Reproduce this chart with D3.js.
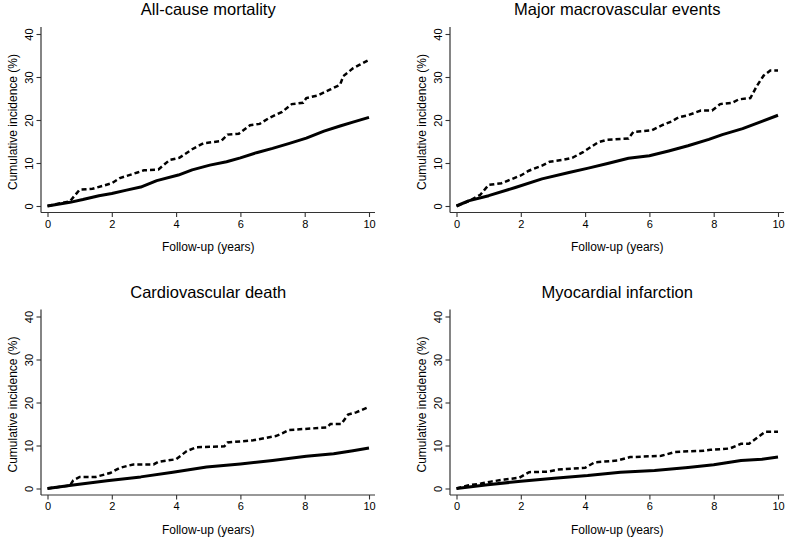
<!DOCTYPE html>
<html><head><meta charset="utf-8">
<script src="https://cdn.jsdelivr.net/npm/d3@7"></script>
<style>body{margin:0;background:#fff}svg{display:block}text{font-family:"Liberation Sans",Arial,Helvetica,sans-serif;fill:#000}</style>
</head><body>
<script>
// ---- data: [years, cumulative incidence %] ----
const titles = ["All-cause mortality","Major macrovascular events","Cardiovascular death","Myocardial infarction"];
const xTicks = [0,2,4,6,8,10];
const yTicks = [0,10,20,30,40];
const xLabel = "Follow-up (years)";
const yLabel = "Cumulative incidence (%)";

const mortalitySolid = [[0,0],[0.7,0.85],[1.1,1.5],[1.6,2.4],[2.0,2.9],[2.46,3.7],[2.9,4.4],[3.4,5.9],[4.07,7.2],[4.5,8.4],[5.05,9.5],[5.57,10.3],[6.0,11.2],[6.5,12.4],[7.0,13.4],[7.5,14.5],[8.05,15.8],[8.6,17.4],[9.1,18.6],[9.5,19.5],[10,20.6]];
const mortalityDashed = [[0,0],[0.3,0.5],[0.7,1.1],[1.0,3.8],[1.4,4.0],[2.0,5.3],[2.25,6.5],[2.8,7.8],[3.0,8.3],[3.45,8.5],[3.8,10.7],[4.1,11.2],[4.5,13.2],[4.85,14.6],[5.4,15.1],[5.6,16.6],[5.95,16.8],[6.3,18.8],[6.6,19.1],[6.9,20.5],[7.3,21.9],[7.6,23.7],[7.95,24.0],[8.05,25.1],[8.4,25.7],[8.8,27.1],[9.1,28.2],[9.2,30.2],[9.5,32.0],[9.7,32.8],[10,34.0]];
const macroSolid = [[0,0],[0.37,1.2],[1.0,2.4],[1.83,4.3],[2.66,6.3],[3.5,7.8],[4.1,8.8],[4.7,9.9],[5.35,11.1],[6.0,11.7],[6.6,12.8],[7.2,14.0],[7.85,15.5],[8.27,16.6],[8.9,18.0],[9.5,19.7],[10,21.1]];
const macroDashed = [[0,0],[0.37,1.1],[0.74,2.6],[1.0,4.9],[1.4,5.3],[1.83,6.6],[2.0,7.1],[2.25,8.2],[2.66,9.4],[2.9,10.3],[3.28,10.7],[3.6,11.2],[3.95,12.6],[4.4,14.8],[4.68,15.4],[5.35,15.7],[5.5,17.2],[6.08,17.6],[6.4,18.8],[6.7,19.7],[6.9,20.6],[7.2,21.1],[7.6,22.2],[7.95,22.2],[8.2,23.7],[8.57,24.0],[8.78,24.8],[9.14,25.1],[9.35,28.0],[9.55,30.3],[9.76,31.5],[10,31.5]];
const cvdSolid = [[0,0],[0.8,0.8],[1.85,1.8],[2.9,2.7],[3.9,3.8],[4.95,5.0],[6.0,5.7],[7.0,6.5],[8.05,7.5],[8.9,8.1],[9.5,8.8],[10,9.4]];
const cvdDashed = [[0,0],[0.4,0.4],[0.7,0.7],[0.8,1.9],[1.0,2.7],[1.5,2.7],[1.95,3.6],[2.25,4.8],[2.67,5.6],[3.3,5.6],[3.45,6.2],[4.0,6.8],[4.33,8.7],[4.64,9.6],[5.5,9.8],[5.6,10.7],[6.4,11.2],[7.1,12.2],[7.3,12.8],[7.5,13.6],[8.7,14.2],[8.8,15.0],[9.14,15.0],[9.35,17.2],[9.6,17.7],[10,19.0]];
const miSolid = [[0,0],[0.97,0.85],[2.0,1.7],[3.04,2.4],[4.08,3.0],[5.1,3.8],[6.16,4.2],[7.2,4.9],[8.0,5.5],[8.85,6.5],[9.5,6.8],[10,7.3]];
const miDashed = [[0,0],[0.35,0.7],[0.76,1.15],[1.07,1.6],[1.5,2.1],[1.95,2.5],[2.26,3.8],[2.83,3.9],[3.15,4.4],[4.0,4.8],[4.3,6.1],[5.0,6.5],[5.4,7.3],[6.37,7.6],[6.8,8.5],[7.7,8.8],[7.9,9.0],[8.5,9.3],[8.85,10.4],[9.1,10.4],[9.37,11.9],[9.6,13.2],[10,13.2]];

const panelSeries = [[mortalitySolid,mortalityDashed],[macroSolid,macroDashed],[cvdSolid,cvdDashed],[miSolid,miDashed]];

// ---- layout ----
const W = 786, H = 537;
const svg = d3.select("body").append("svg").attr("width", W).attr("height", H);
const origins = [[0,0],[409,0],[0,282.5],[409,282.5]];
const axisColor = "#333";

panelSeries.forEach((series, i) => {
  const [ox, oy] = origins[i];
  const g = svg.append("g").attr("transform", `translate(${ox},${oy})`);
  const x = d3.scaleLinear().domain([0,10]).range([47.5, 369]);
  const y = d3.scaleLinear().domain([0,40]).range([206, 34]);

  // title
  g.append("text").attr("x", (x(0)+x(10))/2).attr("y", 15)
    .attr("text-anchor","middle").style("font-size","16.5px").text(titles[i]);

  // axis lines
  const axBase = y(0) + 6.5, axLeft = x(0) - 6.5;
  g.append("line").attr("x1", axLeft).attr("x2", x(10)+6).attr("y1", axBase).attr("y2", axBase)
    .attr("stroke", axisColor).attr("stroke-width", 1.2);
  g.append("line").attr("x1", axLeft).attr("x2", axLeft).attr("y1", axBase).attr("y2", y(40)-7)
    .attr("stroke", axisColor).attr("stroke-width", 1.2);

  // x axis
  const xa = g.append("g").attr("transform", `translate(0,${axBase})`)
    .call(d3.axisBottom(x).tickValues(xTicks).tickSize(4.5).tickSizeOuter(0).tickPadding(3));
  xa.select(".domain").remove();
  xa.selectAll("line").attr("stroke", axisColor).attr("stroke-width", 1.1);
  xa.selectAll("text").style("font-size","11px").attr("fill","#000");

  // y axis
  const ya = g.append("g").attr("transform", `translate(${axLeft},0)`)
    .call(d3.axisLeft(y).tickValues(yTicks).tickSize(4.5).tickSizeOuter(0));
  ya.select(".domain").remove();
  ya.selectAll("line").attr("stroke", axisColor).attr("stroke-width", 1.1);
  ya.selectAll("text").style("font-size","11px").attr("fill","#000")
    .attr("x", null).attr("dy", null).attr("text-anchor","middle")
    .attr("transform", "translate(-12,0) rotate(-90)").attr("dy","0.35em");

  // axis titles
  g.append("text").attr("x", (x(0)+x(10))/2).attr("y", 251)
    .attr("text-anchor","middle").style("font-size","12px").text(xLabel);
  g.append("text").attr("transform", `translate(${axLeft-28},${(y(0)+y(40))/2 + 2}) rotate(-90)`)
    .attr("text-anchor","middle").attr("dy","0.35em").style("font-size","12px").text(yLabel);

  const line = d3.line().x(d => x(d[0])).y(d => y(d[1]));
  g.append("path").datum(series[1]).attr("d", line).attr("fill","none")
    .attr("stroke","#000").attr("stroke-width",2.5).attr("stroke-dasharray","5,3");
  g.append("path").datum(series[0]).attr("d", line).attr("fill","none")
    .attr("stroke","#000").attr("stroke-width",3).attr("stroke-linejoin","round");
});
</script>
</body></html>
